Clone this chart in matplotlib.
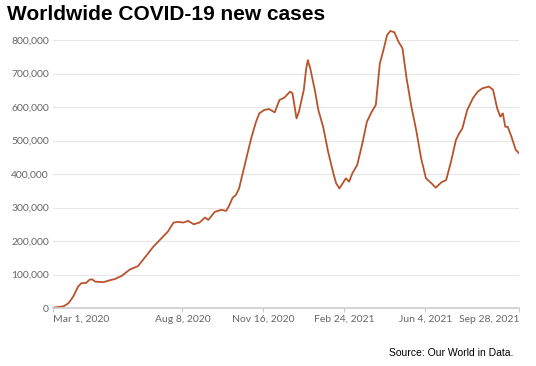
import matplotlib
matplotlib.use("Agg")
import matplotlib.pyplot as plt
import matplotlib.ticker as mticker
import pandas as pd

# 7-day average of new cases
dates = [
    "2020-03-01", "2020-03-14", "2020-03-20", "2020-03-26", "2020-04-01", "2020-04-05",
    "2020-04-11", "2020-04-15", "2020-04-18", "2020-04-22", "2020-05-02", "2020-05-12",
    "2020-05-16", "2020-05-25", "2020-06-04", "2020-06-14", "2020-06-20", "2020-07-03",
    "2020-07-13", "2020-07-21", "2020-07-28", "2020-08-03", "2020-08-09", "2020-08-15",
    "2020-08-22", "2020-08-29", "2020-09-05", "2020-09-09", "2020-09-17", "2020-09-25",
    "2020-10-01", "2020-10-04", "2020-10-09", "2020-10-13", "2020-10-17", "2020-10-21",
    "2020-10-26", "2020-11-01", "2020-11-07", "2020-11-11", "2020-11-17", "2020-11-23",
    "2020-11-30", "2020-12-06", "2020-12-12", "2020-12-19", "2020-12-22", "2020-12-27",
    "2020-12-30", "2021-01-05", "2021-01-08", "2021-01-10", "2021-01-13", "2021-01-19",
    "2021-01-23", "2021-01-29", "2021-02-04", "2021-02-10", "2021-02-14", "2021-02-18",
    "2021-02-22", "2021-02-26", "2021-03-02", "2021-03-06", "2021-03-12", "2021-03-18",
    "2021-03-24", "2021-03-30", "2021-04-04", "2021-04-09", "2021-04-13", "2021-04-18",
    "2021-04-22", "2021-04-27", "2021-05-02", "2021-05-07", "2021-05-12", "2021-05-18",
    "2021-05-24", "2021-05-30", "2021-06-05", "2021-06-12", "2021-06-17", "2021-06-24",
    "2021-06-30", "2021-07-06", "2021-07-12", "2021-07-16", "2021-07-20", "2021-07-26",
    "2021-08-02", "2021-08-08", "2021-08-14", "2021-08-22", "2021-08-27", "2021-09-01",
    "2021-09-05", "2021-09-08", "2021-09-11", "2021-09-14", "2021-09-18", "2021-09-24",
    "2021-09-28",
]
cases = [
    1000, 5000, 14000, 34000, 64000, 74000,
    75000, 84000, 86000, 79000, 77000, 84000,
    86000, 96000, 115000, 125000, 143000, 183000,
    208000, 228000, 255000, 257000, 255000, 260000,
    250000, 255000, 270000, 263000, 287000, 293000,
    290000, 302000, 329000, 337000, 357000, 397000,
    447000, 507000, 556000, 581000, 591000, 594000,
    584000, 621000, 628000, 646000, 641000, 566000,
    586000, 651000, 715000, 740000, 715000, 646000,
    591000, 540000, 467000, 407000, 372000, 357000,
    372000, 387000, 377000, 402000, 427000, 487000,
    556000, 586000, 606000, 730000, 766000, 815000,
    827000, 823000, 795000, 775000, 686000, 601000,
    530000, 447000, 387000, 372000, 359000, 375000,
    382000, 437000, 501000, 521000, 536000, 591000,
    626000, 646000, 656000, 661000, 651000, 596000,
    571000, 581000, 541000, 541000, 516000, 472000,
    462000,
]

tick_dates = ["2020-03-01", "2020-08-08", "2020-11-16", "2021-02-24", "2021-06-04", "2021-09-28"]
tick_labels = ["Mar 1, 2020", "Aug 8, 2020", "Nov 16, 2020", "Feb 24, 2021", "Jun 4, 2021", "Sep 28, 2021"]
y_ticks = [0, 100000, 200000, 300000, 400000, 500000, 600000, 700000, 800000]

x = pd.to_datetime(dates)
W, H = 536, 366
fig = plt.figure(figsize=(W / 100, H / 100), dpi=100)
ax = fig.add_axes([53 / W, (H - 308) / H, (519 - 53) / W, (308 - 28) / H])

ax.plot(x, cases, color="#b8532c", lw=1.3, solid_joinstyle="round")

ax.set_xlim(pd.Timestamp(tick_dates[0]), pd.Timestamp(tick_dates[-1]))
ax.set_ylim(0, 280 / 33.5 * 100000)

ax.set_yticks(y_ticks)
ax.yaxis.set_major_formatter(mticker.FuncFormatter(lambda v, p: f"{int(v):,}"))
ax.grid(axis="y", color="#e6e6e6", lw=0.8)
ax.set_axisbelow(True)

ax.set_xticks(pd.to_datetime(tick_dates))
ax.set_xticklabels(tick_labels)
labels = ax.get_xticklabels()
labels[0].set_ha("left")
labels[-1].set_ha("right")

for s in ["top", "right", "left"]:
    ax.spines[s].set_visible(False)
ax.spines["bottom"].set_color("#cccccc")
ax.spines["bottom"].set_linewidth(1.2)

ax.tick_params(axis="y", length=0, pad=3, labelsize=7.5, labelcolor="#666666")
ax.tick_params(axis="x", length=3, color="#cccccc", pad=2, labelsize=7.5, labelcolor="#666666")
for t in ax.get_xticklabels() + ax.get_yticklabels():
    t.set_fontfamily("Lato")

fig.text(7 / W, 1 - 15 / H, "Worldwide COVID-19 new cases", fontsize=15, fontweight="bold",
         family="Liberation Sans", va="center", ha="left", color="#000000")
fig.text(513 / W, 1 - 353 / H, "Source: Our World in Data.", fontsize=7.5,
         family="Liberation Sans", va="center", ha="right", color="#000000")

fig.savefig("out.png", dpi=100)
